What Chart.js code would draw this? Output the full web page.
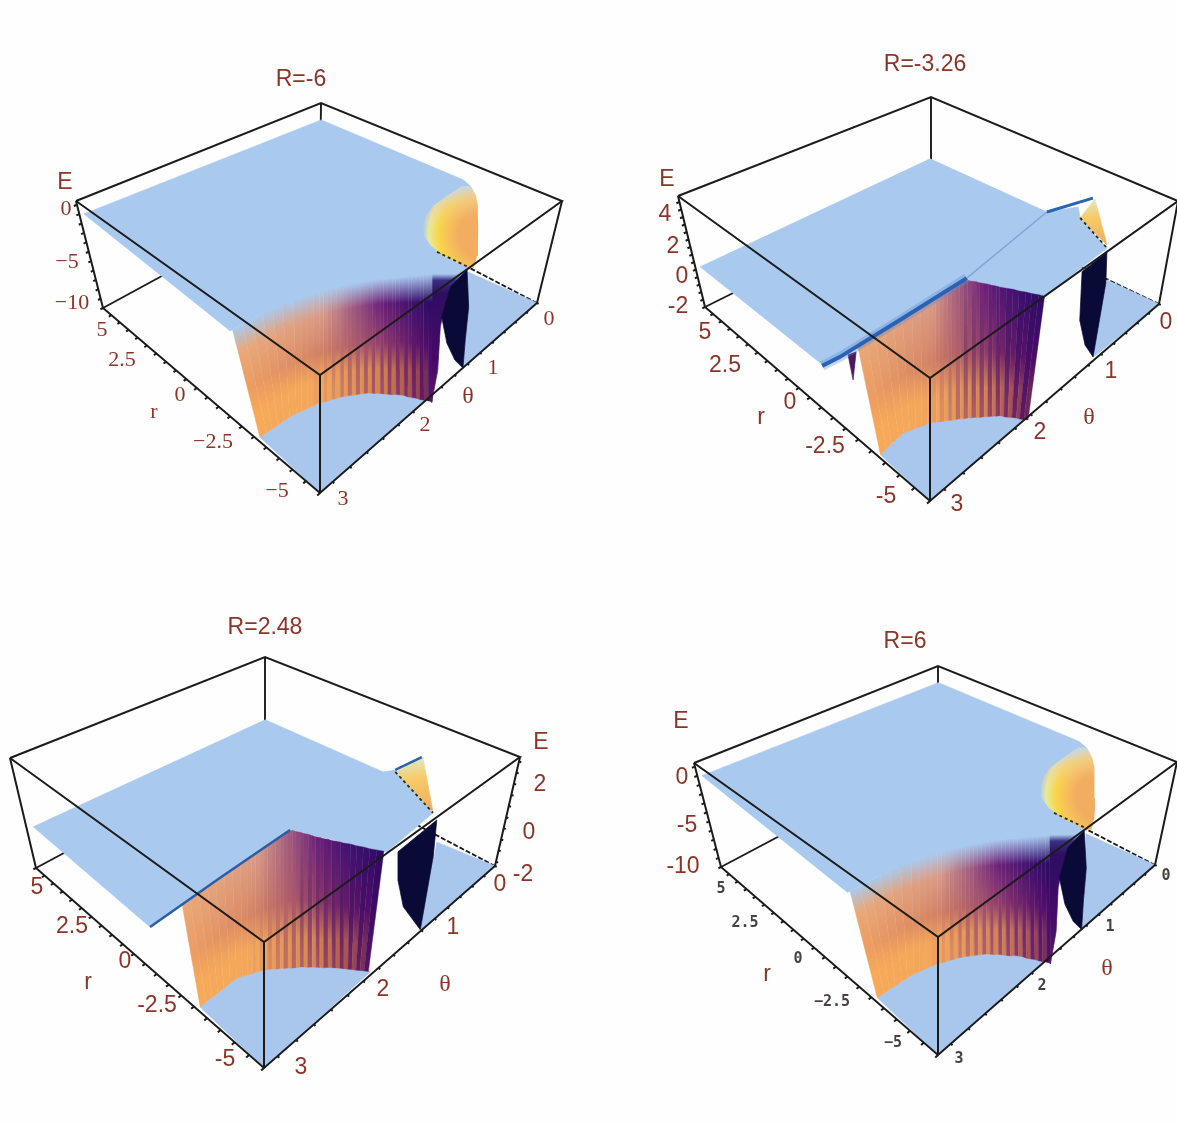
<!DOCTYPE html>
<html>
<head>
<meta charset="utf-8">
<title>Energy surfaces</title>
<script src="https://cdn.jsdelivr.net/npm/chart.js@4.4.0/dist/chart.umd.js"></script>
<style>
  html, body { margin: 0; padding: 0; background: #fefefe; }
  #page { position: relative; width: 1177px; height: 1124px; overflow: hidden; }
  canvas { position: absolute; filter: blur(0.55px); }
</style>
</head>
<body>
<div id="page">
  <canvas id="c1" width="588" height="562" style="left:0;top:0"></canvas>
  <canvas id="c2" width="589" height="562" style="left:588px;top:0"></canvas>
  <canvas id="c3" width="588" height="562" style="left:0;top:562px"></canvas>
  <canvas id="c4" width="589" height="562" style="left:588px;top:562px"></canvas>
</div>
<script>
const titles = ['R=-6', 'R=-3.26', 'R=2.48', 'R=6'];
const rLabels = ['5', '2.5', '0', '-2.5', '-5'];
const thetaLabels = ['0', '1', '2', '3'];
const eLabelsDeep = ['0', '-5', '-10'];
const eLabelsStepA = ['4', '2', '0', '-2'];
const eLabelsStepB = ['2', '0', '-2'];

const thetaMax = 3.14159;
const rTicks = [-5, -4.5, -4, -3.5, -3, -2.5, -2, -1.5, -1, -0.5, 0, 0.5, 1, 1.5, 2, 2.5, 3, 3.5, 4, 4.5, 5];
const thetaTicks = [0, 0.2, 0.4, 0.6, 0.8, 1, 1.2, 1.4, 1.6, 1.8, 2, 2.2, 2.4, 2.6, 2.8, 3];
const eTicksDeep = [-10, -9, -8, -7, -6, -5, -4, -3, -2, -1, 0, 1];
const eTicksStepA = [-2, -1.5, -1, -0.5, 0, 0.5, 1, 1.5, 2, 2.5, 3, 3.5, 4, 4.5, 5];
const eTicksStepB = [-2, -1.5, -1, -0.5, 0, 0.5, 1, 1.5, 2, 2.5];

// R = -6 and R = 6 look the same; points are [theta, r, E]
const deepLevel = 0;
const deepPlateau = [[3.11,4.91,0],[0.12,4.6,0],[0.11,-1.78,0],[0.16,-2.17,0],[0.98,-3.14,0],[1.31,-3.67,0],[1.3,-4.74,0],[1.59,-4.19,0],[1.95,-3.39,0],[2.41,-2.65,0],[2.92,-2.22,0],[3.19,-2.16,0]];
const deepFloorFront = [[3.11,-2.62,-10],[2.75,-2.71,-10],[2.49,-2.93,-10],[2.28,-3.26,-10],[2.1,-3.69,-10],[1.93,-4.35,-10],[1.83,-4.94,-10],[1.8,-5,-10],[3.14,-5,-10]];
const deepFloorRight = [[0.07,-2.43,-10],[0,-5,-10],[1.27,-5,-10],[0.58,-3.59,-10]];
const deepWedge = [[1.72,-5,-10.82],[1.7,-5,-7.7],[1.76,-5,-2.93],[1.75,-5,-1.82],[1.7,-5,0.78],[1.33,-4.71,0],[1.58,-4.16,0]];
const deepBlack = [[1.33,-4.71,0],[1.36,-5,-3.22],[1.32,-5,-6.81],[1.27,-5,-10.03],[1.44,-5,-8.21],[1.62,-5,-5.41],[1.76,-5,-1.96],[1.7,-5,0.78]];
const deepDash = [[1.3,-3.64,0],[1.29,-4.72,0]];
const deepPatchLeft = [[0,-1.56,-1.46],[0,-1.03,-3.31],[0,-0.52,-5.17],[0,-0.27,-6.68],[0,-0.19,-7.99],[0,-0.28,-9.07],[0,-0.64,-9.8],[0,-1.23,-10.16],[0,-2.27,-10.1]];
const deepPatchRight = [[0,-1.89,-1.03],[0,-2.13,-1.89],[0,-2.26,-2.88],[0,-2.32,-3.96],[0,-2.39,-5.05],[0,-2.45,-6.12],[0,-2.51,-7.2],[0,-2.54,-8.32],[0,-2.5,-9.77]];
const deepPatchCentre = [0, -2.7, -5.6];
const deepWallTopTheta = [3.17,3.08,2.99,2.89,2.8,2.71,2.61,2.54,2.49,2.44,2.39,2.36,2.33,2.3,2.26,2.23,2.2,2.17,2.14,2.11,2.08,2.05,2.02,1.99,1.96,1.93,1.91,1.88,1.85,1.83,1.8,1.77,1.74,1.72,1.69,1.66,1.64,1.61,1.58];
const deepWallTopR = [-2.17,-2.19,-2.21,-2.23,-2.27,-2.32,-2.37,-2.44,-2.49,-2.54,-2.59,-2.63,-2.68,-2.72,-2.77,-2.82,-2.86,-2.91,-2.96,-3.01,-3.07,-3.12,-3.17,-3.23,-3.28,-3.34,-3.4,-3.46,-3.53,-3.59,-3.65,-3.71,-3.78,-3.84,-3.91,-3.97,-4.03,-4.1,-4.16];
const deepWallFloorTheta = [3.11,3.04,2.98,2.92,2.85,2.79,2.72,2.67,2.61,2.55,2.49,2.46,2.43,2.39,2.36,2.32,2.29,2.26,2.23,2.2,2.17,2.14,2.11,2.09,2.07,2.04,2.02,2,1.98,1.95,1.93,1.91,1.9,1.88,1.86,1.85,1.83,1.81,1.8];
const deepWallFloorR = [-2.62,-2.64,-2.65,-2.67,-2.68,-2.7,-2.73,-2.78,-2.83,-2.88,-2.93,-2.99,-3.04,-3.09,-3.14,-3.19,-3.25,-3.31,-3.38,-3.45,-3.52,-3.59,-3.66,-3.74,-3.82,-3.91,-4,-4.09,-4.18,-4.26,-4.35,-4.45,-4.56,-4.66,-4.76,-4.86,-4.96,-5.06,-5.16];

// R = -3.26
const stepALevel = 0.8;
const stepAPlateau = [[3.12,4.8,0.8],[0.02,4.95,0.8],[0.02,-0.6,0.8],[-0.3,-1.15,0.8],[-0.13,-1.61,0.8],[0.15,-3.24,0.8],[1.19,-3.35,0.8],[1.5,-1.29,0.8],[2.97,-1.22,0.8],[3.12,-1.13,0.8]];
const stepACrease = [[3.13,-1.16,0.8],[2.97,-1.22,0.8],[2.32,-1.23,0.8],[1.48,-1.22,0.8]];
const stepAFaint = [[1.48,-1.22,0.8],[0.02,-0.6,0.8]];
const stepATip = [[0.02,-0.6,0.8],[-0.57,-1.16,0.8]];
const stepASliver = [[3.14,-2.3,3.01],[3.14,-2.61,3.61],[3.14,-2.43,1.62]];
const stepAFloorFront = [[3.12,-3.24,-2],[2.85,-3.13,-2],[2.63,-3.38,-2],[2.39,-3.93,-2],[2.18,-4.48,-2],[2.06,-5,-2],[3.14,-5,-2]];
const stepAFloorRight = [[0.01,-3.17,-2],[0,-5,-2],[1.04,-4.93,-2],[1.08,-4.91,-2]];
const stepABlack = [[0.65,-3.42,0.8],[0.21,-3.36,0.8],[1.08,-5,3.1],[1.13,-5,-1.71],[1.29,-5,-0.3],[1.42,-5,1.84]];
const stepAPatch = [[0,-1.86,1.35],[0,-2.3,3.12],[0,-2.96,0.33]];
const stepADash = [[-0.13,-1.61,0.8],[0.15,-3.24,0.8]];
const stepAWallTopTheta = [2.77,2.68,2.59,2.49,2.39,2.29,2.18,2.07,1.98,1.93,1.89,1.84,1.79,1.74,1.69,1.64,1.59,1.54,1.5,1.48,1.46,1.45,1.43,1.41,1.4,1.38,1.37,1.34,1.31,1.29,1.26,1.24,1.21,1.19];
const stepAWallTopR = [-1.15,-1.17,-1.19,-1.2,-1.22,-1.23,-1.23,-1.22,-1.22,-1.22,-1.23,-1.24,-1.25,-1.25,-1.26,-1.27,-1.27,-1.28,-1.32,-1.43,-1.53,-1.64,-1.75,-1.86,-1.97,-2.08,-2.18,-2.35,-2.52,-2.69,-2.86,-3.02,-3.19,-3.35];
const stepAWallFloorTheta = [3.12,3.05,2.99,2.91,2.85,2.8,2.75,2.7,2.65,2.62,2.59,2.57,2.54,2.51,2.49,2.46,2.43,2.41,2.38,2.36,2.33,2.31,2.28,2.26,2.23,2.21,2.18,2.17,2.15,2.13,2.11,2.1,2.08,2.06];
const stepAWallFloorR = [-3.24,-3.21,-3.18,-3.16,-3.14,-3.2,-3.25,-3.31,-3.36,-3.41,-3.47,-3.53,-3.59,-3.65,-3.71,-3.77,-3.83,-3.89,-3.95,-4.01,-4.08,-4.15,-4.21,-4.28,-4.35,-4.41,-4.48,-4.57,-4.65,-4.73,-4.82,-4.9,-4.99,-5.07];

// R = 2.48
const stepBLevel = -0.4;
const stepBPlateau = [[3.09,4.89,-0.4],[0.12,4.6,-0.4],[0.05,-0.65,-0.4],[-0.07,-0.88,-0.4],[0.29,-3.13,-0.4],[1.07,-3.29,-0.4],[1.44,-0.64,-0.4],[3.13,-0.92,-0.4]];
const stepBCrease = [[3.13,-0.92,-0.4],[2.35,-0.77,-0.4],[1.44,-0.64,-0.4]];
const stepBTip = [[-0.07,-0.86,-0.4],[-0.47,-1.01,-0.4]];
const stepBFloorFront = [[3.11,-2.62,-2.2],[2.7,-2.59,-2.2],[2.49,-2.9,-2.2],[2.23,-3.56,-2.2],[2.03,-4.28,-2.2],[1.88,-4.93,-2.2],[3.14,-5,-2.2]];
const stepBFloorRight = [[0.09,-3.07,-2.2],[0,-5,-2.2],[1.19,-5,-2.2],[1.2,-4.96,-2.2]];
const stepBBlack = [[1,-3.51,-0.4],[0.36,-3.42,-0.4],[1.22,-5,0.92],[1.22,-5,-2.12],[1.56,-5,-0.33],[1.7,-5,1.11]];
const stepBPatch = [[0,-1.04,-0.27],[0,-1.96,0.97],[0,-2.6,-1.27]];
const stepBDash = [[-0.04,-0.93,-0.4],[0.29,-3.13,-0.4]];
const stepBWallTopTheta = [2.79,2.7,2.6,2.5,2.4,2.3,2.2,2.1,2.01,1.96,1.91,1.85,1.8,1.75,1.69,1.64,1.58,1.53,1.47,1.43,1.42,1.4,1.39,1.37,1.36,1.35,1.33,1.32,1.3,1.29,1.27,1.25,1.24,1.21,1.19,1.16,1.14,1.11,1.08];
const stepBWallTopR = [-0.87,-0.85,-0.83,-0.81,-0.78,-0.77,-0.76,-0.75,-0.74,-0.73,-0.72,-0.71,-0.71,-0.7,-0.69,-0.68,-0.67,-0.66,-0.65,-0.7,-0.82,-0.93,-1.05,-1.16,-1.28,-1.39,-1.51,-1.62,-1.73,-1.84,-1.95,-2.06,-2.17,-2.33,-2.51,-2.68,-2.86,-3.03,-3.21];
const stepBWallFloorTheta = [3.11,3.05,2.98,2.92,2.85,2.78,2.71,2.66,2.62,2.58,2.55,2.52,2.49,2.46,2.43,2.41,2.38,2.36,2.33,2.31,2.28,2.25,2.23,2.21,2.18,2.16,2.14,2.12,2.09,2.07,2.05,2.03,2.01,1.99,1.97,1.95,1.93,1.91,1.89];
const stepBWallFloorR = [-2.62,-2.61,-2.61,-2.61,-2.6,-2.6,-2.6,-2.65,-2.72,-2.77,-2.81,-2.86,-2.9,-2.97,-3.04,-3.11,-3.17,-3.24,-3.31,-3.38,-3.45,-3.51,-3.58,-3.66,-3.74,-3.82,-3.89,-3.97,-4.05,-4.13,-4.2,-4.28,-4.37,-4.46,-4.54,-4.63,-4.71,-4.8,-4.89];

const BLUE = '#a9c9ee';
const FLOOR = '#a9c6ec';
const NAVY = '#0a0a36';
const LINE = '#1b1b1b';
const TEXT = '#8a3528';
const SANS = '"Liberation Sans"';
const SERIF = '"Liberation Serif"';

const wallStops = [0, 0.27, 0.66, 0.88, 1];
const wallTopColors = ['#e9a878', '#d89a88', '#6a1f78', '#3a1070', '#2a0a60'];
const wallMidColors = ['#ec9c62', '#cf8066', '#8f3b6c', '#5d1469', '#45096a'];
const wallLowColors = ['#f6a958', '#f2a65c', '#d28450', '#a04c50', '#5a1a5e'];

const deep = {
  plateau: deepPlateau, floors: [deepFloorFront, deepFloorRight], black: deepBlack, wedge: deepWedge, dash: deepDash,
  level: deepLevel, fade: true,
  wall: [deepWallTopTheta, deepWallTopR, deepWallFloorTheta, deepWallFloorR],
  patchRows: [deepPatchLeft, deepPatchRight], patchCentre: deepPatchCentre
};
const stepA = {
  plateau: stepAPlateau, floors: [stepAFloorFront, stepAFloorRight], black: stepABlack, dash: stepADash, patch: stepAPatch,
  level: stepALevel, fade: false, sliver: stepASliver,
  wall: [stepAWallTopTheta, stepAWallTopR, stepAWallFloorTheta, stepAWallFloorR],
  creases: [[stepACrease, '#2a62b4', 4], [stepAFaint, '#7fa6da', 1.5], [stepATip, '#2a62b4', 3]]
};
const stepB = {
  plateau: stepBPlateau, floors: [stepBFloorFront, stepBFloorRight], black: stepBBlack, dash: stepBDash, patch: stepBPatch,
  level: stepBLevel, fade: false,
  wall: [stepBWallTopTheta, stepBWallTopR, stepBWallFloorTheta, stepBWallFloorR],
  creases: [[stepBCrease, '#2a5ea8', 2.5], [stepBTip, '#2a62b4', 2.5]]
};

const panels = [
  {
    id: 'c1', surface: deep, eLo: -10, eHi: 1.4, eTicks: eTicksDeep, eEdge: [thetaMax, 5], eOut: [0.03, 0],
    origin: [0, 0], size: [588, 562],
    top: [[320, 375], [562, 201], [76, 201], [321, 103]], bottom: [[320, 493], [537, 303], [103, 308], [320, 190]],
    title: [301, 80],
    eLabels: eLabelsDeep, ePos: [[66, 209], [67, 262], [72, 303]], ePlace: [65, 183],
    rPos: [[102, 330], [122, 360], [180, 395], [213, 442], [277, 491]], rName: [154, 412],
    thetaPos: [[549, 319], [493, 368], [425, 425], [343, 499]], thetaName: [468, 397],
    font: '22px ' + SERIF, minus: true
  },
  {
    id: 'c2', surface: stepA, eLo: -2, eHi: 5.4, eTicks: eTicksStepA, eEdge: [thetaMax, 5], eOut: [0.03, 0],
    origin: [588, 0], size: [589, 562],
    top: [[930, 378], [1178, 201], [678, 196], [931, 97]], bottom: [[930, 501], [1159, 304], [705, 307], [930, 195]],
    title: [925, 65],
    eLabels: eLabelsStepA, ePos: [[665, 215], [673, 247], [682, 277], [678, 307]], ePlace: [667, 180],
    rPos: [[705, 333], [725, 366], [790, 403], [825, 447], [886, 497]], rName: [761, 418],
    thetaPos: [[1166, 323], [1111, 372], [1040, 433], [957, 505]], thetaName: [1089, 418],
    font: '23px ' + SANS
  },
  {
    id: 'c3', surface: stepB, eLo: -2.2, eHi: 2.7, eTicks: eTicksStepB, eEdge: [0, -5], eOut: [0, -0.07],
    origin: [0, 562], size: [588, 562],
    top: [[264, 942], [520, 757], [10, 758], [265, 657]], bottom: [[264, 1068], [495, 866], [36, 868], [265, 745]],
    title: [265, 628],
    eLabels: eLabelsStepB, ePos: [[540, 785], [529, 833], [523, 875]], ePlace: [541, 743],
    rPos: [[37, 888], [72, 927], [125, 962], [157, 1006], [225, 1060]], rName: [88, 983],
    thetaPos: [[500, 885], [453, 928], [383, 990], [301, 1068]], thetaName: [445, 985],
    font: '23px ' + SANS
  },
  {
    id: 'c4', surface: deep, eLo: -10, eHi: 1.4, eTicks: eTicksDeep, eEdge: [thetaMax, 5], eOut: [0.03, 0],
    origin: [588, 562], size: [589, 562],
    top: [[938, 937], [1177, 762], [694, 763], [938, 666]], bottom: [[938, 1055], [1155, 865], [721, 867], [938, 752]],
    title: [905, 642],
    eLabels: eLabelsDeep, ePos: [[682, 778], [687, 826], [683, 867]], ePlace: [681, 722],
    rPos: [[721, 889], [745, 923], [798, 959], [832, 1002], [893, 1043]], rName: [767, 975],
    thetaPos: [[1166, 876], [1110, 927], [1042, 986], [959, 1059]], thetaName: [1107, 969],
    font: '23px ' + SANS, smallTicks: true
  }
];

const homography = (c, s, t) => {
  const [A, B, C, D] = c;
  const dx1 = B[0] - D[0], dx2 = C[0] - D[0], sx = A[0] - B[0] + D[0] - C[0];
  const dy1 = B[1] - D[1], dy2 = C[1] - D[1], sy = A[1] - B[1] + D[1] - C[1];
  const den = dx1 * dy2 - dx2 * dy1;
  const g = (sx * dy2 - dx2 * sy) / den;
  const h = (dx1 * sy - sx * dy1) / den;
  const w = 1 + g * s + h * t;
  return [
    (A[0] + s * (B[0] * (1 + g) - A[0]) + t * (C[0] * (1 + h) - A[0])) / w,
    (A[1] + s * (B[1] * (1 + g) - A[1]) + t * (C[1] * (1 + h) - A[1])) / w
  ];
};

const projector = (panel) => ([theta, r, e]) => {
  const s = 1 - theta / thetaMax;
  const t = (r + 5) / 10;
  const h = (e - panel.eLo) / (panel.eHi - panel.eLo);
  const a = homography(panel.bottom, s, t);
  const b = homography(panel.top, s, t);
  return { x: a[0] + (b[0] - a[0]) * h, y: a[1] + (b[1] - a[1]) * h };
};

const hex = (c) => [1, 3, 5].map((i) => parseInt(c.substr(i, 2), 16));
const mix = (a, b, f) => {
  const pa = hex(a), pb = hex(b);
  return '#' + pa.map((v, i) => Math.round(v + (pb[i] - v) * f).toString(16).padStart(2, '0')).join('');
};
const ramp = (colors, k) => {
  let i = 0;
  while (i < wallStops.length - 2 && k > wallStops[i + 1]) i++;
  return mix(colors[i], colors[i + 1], (k - wallStops[i]) / (wallStops[i + 1] - wallStops[i]));
};

const gradient = (from, to, stops, fallback) => (ctx) => {
  const { chart } = ctx;
  const { x, y } = chart.scales;
  const x0 = x.getPixelForValue(from.x), y0 = y.getPixelForValue(from.y);
  const x1 = x.getPixelForValue(to.x), y1 = y.getPixelForValue(to.y);
  if (![x0, y0, x1, y1].every(Number.isFinite)) return fallback;
  const g = chart.ctx.createLinearGradient(x0, y0, x1, y1);
  stops.forEach(([at, color]) => g.addColorStop(at, color));
  return g;
};

const radial = (centre, edge, stops, fallback) => (ctx) => {
  const { chart } = ctx;
  const { x, y } = chart.scales;
  const x0 = x.getPixelForValue(centre.x), y0 = y.getPixelForValue(centre.y);
  const x1 = x.getPixelForValue(edge.x), y1 = y.getPixelForValue(edge.y);
  if (![x0, y0, x1, y1].every(Number.isFinite)) return fallback;
  const g = chart.ctx.createRadialGradient(x0, y0, 0, x0, y0, Math.hypot(x1 - x0, y1 - y0));
  stops.forEach(([at, color]) => g.addColorStop(at, color));
  return g;
};

const polygon = (points, fillStyle, borderWidth = 0.7) => ({
  data: points.concat(points[0]),
  showLine: true,
  fill: 'shape',
  backgroundColor: fillStyle,
  borderColor: fillStyle,
  borderWidth,
  pointRadius: 0,
  tension: 0
});

const polyline = (points, color, width, dash) => ({
  data: points,
  showLine: true,
  fill: false,
  borderColor: color,
  borderWidth: width,
  borderDash: dash || [],
  pointRadius: 0,
  tension: 0
});

const wallStrips = (surface, at) => {
  const [topTheta, topR, floorTheta, floorR] = surface.wall;
  const floorE = at.lo;
  const strips = [];
  const last = topTheta.length - 1;
  for (let i = 0; i < last; i++) {
    const a = at.p([topTheta[i], topR[i], surface.level]);
    const b = at.p([topTheta[i + 1], topR[i + 1], surface.level]);
    const c = at.p([floorTheta[i + 1], floorR[i + 1], floorE]);
    const d = at.p([floorTheta[i], floorR[i], floorE]);
    const k = i / last;
    const odd = i % 2 === 1;
    const strength = Math.max(0, Math.min(1, (k - 0.18) / 0.25));
    const top = ramp(wallTopColors, k);
    let mid = ramp(wallMidColors, k);
    let low = ramp(wallLowColors, k);
    if (odd) {
      low = mix(low, mid, 0.75 * strength);
      if (!surface.fade && k > 0.5) mid = mix(mid, '#1e0850', 0.22);
    }
    const lowAt = odd ? 0.78 + 0.16 * strength : 0.78;
    const stops = surface.fade
      ? [[0, BLUE], [0.13, mix(BLUE, top, 0.6)], [0.22, top], [0.55, mid], [lowAt, low], [1, low]]
      : [[0, top], [0.5, mid], [lowAt, low], [1, low]];
    const from = { x: (a.x + b.x) / 2, y: (a.y + b.y) / 2 };
    const to = { x: (c.x + d.x) / 2, y: (c.y + d.y) / 2 };
    strips.push(polygon([a, b, c, d], gradient(from, to, stops, mid), 0.4));
  }
  return strips;
};

const buildDatasets = (panel) => {
  const p = projector(panel);
  const s = panel.surface;
  const lo = panel.eLo, hi = panel.eHi;
  const corner = (theta, r, e) => p([theta, r, e]);
  const list = [];

  // hidden box edges, covered later by the surface
  list.push(polyline([corner(0, 5, lo), corner(0, 5, hi)], LINE, 1.9));
  list.push(polyline([corner(thetaMax, 5, lo), corner(0, 5, lo)], LINE, 1.9));
  list.push(polyline([corner(0, -5, lo), corner(0, 5, lo)], LINE, 1.8, [5, 2]));

  s.floors.forEach((f) => list.push(polygon(f.map(p), FLOOR)));
  list.push(polygon(s.plateau.map(p), BLUE));

  if (s.patchRows) {
    const [left, right] = s.patchRows;
    const outline = left.concat(right.slice().reverse()).map(p);
    const stops = [[0, '#f2ae60'], [0.42, '#f2ae60'], [0.6, '#f6c25a'], [0.74, '#f8d648'], [0.9, '#e6ea9c'], [1, BLUE]];
    list.push(polygon(outline, radial(p(s.patchCentre), p(left[4]), stops, '#f2ae60'), 0));
    const veil = [[0, 'rgba(196,214,236,0.9)'], [0.45, 'rgba(240,205,165,0.45)'], [1, 'rgba(240,205,165,0)']];
    list.push(polygon(outline, gradient(p(right[0]), p(right[3]), veil, 'rgba(240,205,165,0)'), 0));
  }
  if (s.patch) {
    const pts = s.patch.map(p);
    list.push(polygon(pts, gradient(pts[1], pts[2], [[0, '#dfe8c4'], [0.35, '#f6cc68'], [1, '#f0aa60']], '#f6cc68')));
  }
  if (s.wedge) {
    const pts = s.wedge.map(p);
    const stops = [[0, '#5a1a5e'], [0.35, '#45096a'], [0.85, '#2e0e62'], [0.95, '#3a3080'], [1, BLUE]];
    list.push(polygon(pts, gradient(pts[0], pts[6], stops, '#45096a')));
  }

  wallStrips(s, { p, lo }).forEach((d) => list.push(d));

  if (s.sliver) list.push(polygon(s.sliver.map(p), '#4a1a60'));
  list.push(polygon(s.black.map(p), NAVY));
  (s.creases || []).forEach(([pts, color, width]) => {
    if (width >= 4) list.push(polyline(pts.map(p), 'rgba(90,140,215,0.35)', width * 2.4));
    list.push(polyline(pts.map(p), color, width));
  });
  list.push(polyline(s.dash.map(p), '#20301c', 1.8, [3, 3]));

  // visible box edges
  const frame = [
    [corner(thetaMax, 5, hi), corner(0, 5, hi), corner(0, -5, hi), corner(thetaMax, -5, hi), corner(thetaMax, 5, hi)],
    [corner(thetaMax, 5, hi), corner(thetaMax, 5, lo), corner(thetaMax, -5, lo), corner(0, -5, lo), corner(0, -5, hi)],
    [corner(thetaMax, -5, hi), corner(thetaMax, -5, lo)]
  ];
  frame.forEach((pts) => list.push(polyline(pts, LINE, 2)));

  const ticks = [];
  const gap = { x: NaN, y: NaN };
  rTicks.forEach((r) => ticks.push(corner(thetaMax, r, lo), corner(thetaMax + 0.03, r, lo), gap));
  thetaTicks.forEach((t) => ticks.push(corner(t, -5, lo), corner(t, -5.06, lo), gap));
  panel.eTicks.forEach((e) => ticks.push(
    corner(panel.eEdge[0], panel.eEdge[1], e),
    corner(panel.eEdge[0] + panel.eOut[0], panel.eEdge[1] + panel.eOut[1], e),
    gap
  ));
  list.push(polyline(ticks, LINE, 2));

  // Chart.js paints the first dataset on top
  return list.reverse();
};

const panelText = (panel, title) => ({
  id: 'panelText',
  afterDatasetsDraw(chart) {
    const { ctx, scales } = chart;
    const put = (text, pos, font, color) => {
      ctx.font = font;
      ctx.fillStyle = color || TEXT;
      ctx.fillText(text, scales.x.getPixelForValue(pos[0]), scales.y.getPixelForValue(pos[1]));
    };
    const sign = (t) => (panel.minus ? t.replace('-', '\u2212') : t);
    const tickFont = panel.smallTicks ? 'bold 15px "DejaVu Sans Mono"' : panel.font;
    const tickColor = panel.smallTicks ? '#4a4040' : TEXT;
    const tickSign = (t) => (panel.smallTicks ? t.replace('-', '\u2212') : sign(t));
    ctx.save();
    ctx.textAlign = 'center';
    ctx.textBaseline = 'middle';
    put(title, panel.title, '23px ' + SANS);
    put('E', panel.ePlace, '23px ' + SANS);
    panel.eLabels.forEach((t, i) => put(sign(t), panel.ePos[i], panel.font));
    rLabels.forEach((t, i) => put(tickSign(t), panel.rPos[i], tickFont, tickColor));
    thetaLabels.forEach((t, i) => put(t, panel.thetaPos[i], tickFont, tickColor));
    put('r', panel.rName, panel.font);
    put('\u03b8', panel.thetaName, '24px ' + SERIF);
    ctx.restore();
  }
});

const renderPanel = (panel, i) => {
  const ctx = document.getElementById(panel.id);
  new Chart(ctx, {
    type: 'scatter',
    data: { datasets: buildDatasets(panel) },
    options: {
      responsive: false,
      animation: false,
      events: [],
      layout: { padding: 0 },
      plugins: { legend: { display: false }, tooltip: { enabled: false }, title: { display: false } },
      scales: {
        x: { type: 'linear', display: false, min: panel.origin[0], max: panel.origin[0] + panel.size[0] },
        y: { type: 'linear', display: false, reverse: true, min: panel.origin[1], max: panel.origin[1] + panel.size[1] }
      }
    },
    plugins: [panelText(panel, titles[i])]
  });
};

panels.forEach(renderPanel);
</script>
</body>
</html>
